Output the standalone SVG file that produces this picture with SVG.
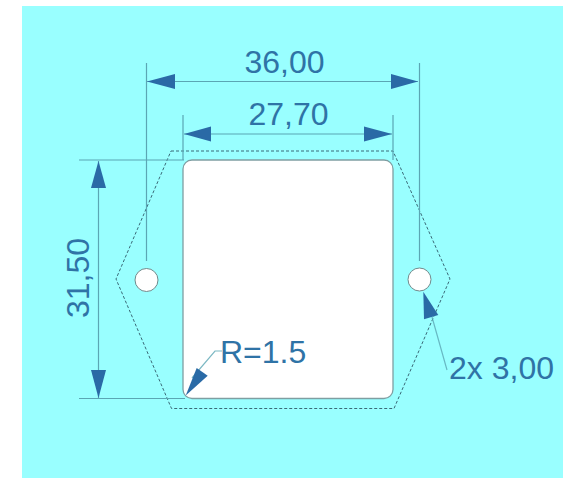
<svg xmlns="http://www.w3.org/2000/svg" width="563" height="478" viewBox="0 0 563 478">
<style>
.dim{stroke:#5ba6b4;stroke-width:1.2;fill:none}
.arr{fill:#2a6aa6;stroke:none}
.t{font-family:"Liberation Sans",Arial,sans-serif;font-size:32px;fill:#2f73a6}
.hole{fill:#fff;stroke:#6f8a8c;stroke-width:1}
</style>
<rect width="563" height="478" fill="#fff"/>
<rect x="22" y="6" width="541" height="472" fill="#99ffff"/>
<g id="outline"><polygon points="171,151 393,151 450,279 394,408.5 171.5,408.5 116,279" fill="none" stroke="#3a6a78" stroke-width="1" stroke-dasharray="3 2"/></g>
<g id="opening"><rect x="183" y="160" width="210" height="238.5" rx="9" fill="#fff" stroke="#7f9ea2" stroke-width="1.3"/></g>
<g id="hole-left"><circle class="hole" cx="146.5" cy="280" r="11.5"/></g>
<g id="hole-right"><circle class="hole" cx="419.5" cy="279.5" r="11.5"/></g>
<g id="connectors">
<path class="dim" d="M146.5 63V261M419.5 63V261M183 115V160M393 115V160M79 160H184M79 398.5H185M147 81.5H418M184 134H392M98.5 161V398"/>
<path class="dim" d="M222 351H215L192 378M447 370L432 317" stroke-width="1" opacity=".8"/>
<polygon class="arr" points="147,81.5 175,74 175,89"/>
<polygon class="arr" points="418,81.5 391,74 391,89"/>
<polygon class="arr" points="184,134 211,126.5 211,141.5"/>
<polygon class="arr" points="392,134 364,126.5 364,141.5"/>
<polygon class="arr" points="98.5,161 91,188 106,188"/>
<polygon class="arr" points="98.5,398 91,370 106,370"/>
<polygon class="arr" points="185.7,395.5 196.7,368 207.7,375.7"/>
<polygon class="arr" points="423.3,291.7 424,319.3 438.3,315"/>
</g>
<g id="labels">
<text class="t" x="284.5" y="72.500" text-anchor="middle">36,00</text>
<text class="t" x="288.500" y="125" text-anchor="middle">27,70</text>
<text class="t" transform="translate(89 278) rotate(-90)" text-anchor="middle">31,50</text>
<text class="t" x="220" y="363">R=1.5</text>
<text class="t" x="449" y="379">2x 3,00</text>
</g>
</svg>
